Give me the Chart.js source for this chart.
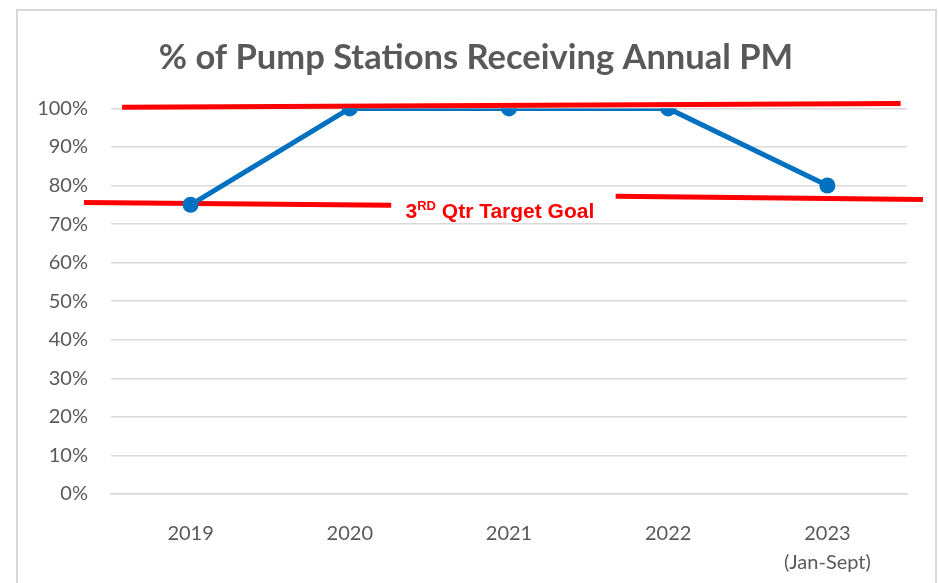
<!DOCTYPE html>
<html>
<head>
<meta charset="utf-8">
<script src="https://cdn.jsdelivr.net/npm/chart.js@4/dist/chart.umd.min.js"></script>
<style>
  html, body { margin: 0; padding: 0; background: #fff; overflow: hidden; }
  #frame { position: absolute; left: 16px; top: 9px; width: 917px; height: 620px; border: 2px solid #d9d9d9; }
  #wrap { position: absolute; left: 0; top: 0; width: 939px; height: 583px; }
</style>
</head>
<body>
<div id="frame"></div>
<div id="wrap"><canvas id="myChart" width="939" height="583"></canvas></div>
<script>
// chart data
var years = ["2019", "2020", "2021", ["2022"], ["2023", "(Jan-Sept)"]];
var pctPM = [75, 100, 100, 100, 80];
var yTicks = [0, 10, 20, 30, 40, 50, 60, 70, 80, 90, 100];

// hand drawn red marks, as (category index, percent)
var topLine = [{x: -0.43, y: 100.3}, {x: 4.46, y: 101.3}];
var goalLeft = [{x: -0.67, y: 75.6}, {x: 1.26, y: 74.9}];
var goalRight = [{x: 2.67, y: 77.2}, {x: 4.6, y: 76.4}];
var goalLabel = {x: 1.35, y: 71.6, text: "3", sup: "RD", rest: " Qtr Target Goal"};

var grey = "#595959";
var red = "#ff0000";

var goalText = {
	id: "goalText",
	afterDatasetsDraw: function(chart) {
		var ctx = chart.ctx;
		var xs = chart.scales.xa, ys = chart.scales.y;
		var px = xs.getPixelForValue(goalLabel.x);
		var py = ys.getPixelForValue(goalLabel.y);
		ctx.save();
		ctx.fillStyle = red;
		ctx.textBaseline = "alphabetic";
		ctx.textAlign = "left";
		ctx.font = "bold 21px 'Liberation Sans', Arial";
		ctx.fillText(goalLabel.text, px, py);
		px += ctx.measureText(goalLabel.text).width;
		ctx.font = "bold 13px 'Liberation Sans', Arial";
		ctx.fillText(goalLabel.sup, px, py - 8);
		px += ctx.measureText(goalLabel.sup).width;
		ctx.font = "bold 21px 'Liberation Sans', Arial";
		ctx.fillText(goalLabel.rest, px, py);
		ctx.restore();
	}
};

function redLine(pts) {
	return {
		type: "line",
		data: pts,
		xAxisID: "xa",
		borderColor: red,
		borderWidth: 5,
		pointRadius: 0,
		clip: false,
		order: 1
	};
}

var ctx = document.getElementById("myChart");

var lineChart = new Chart(ctx, {
	type: "line",
	data: {
		labels: years,
		datasets: [
			{
				label: "% PM",
				data: pctPM,
				borderColor: "#0070c0",
				backgroundColor: "#0070c0",
				borderWidth: 5,
				pointRadius: 8,
				pointHoverRadius: 8,
				pointBorderWidth: 0,
				order: 0
			},
			redLine(topLine),
			redLine(goalLeft),
			redLine(goalRight)
		]
	},
	options: {
		responsive: false,
		animation: false,
		layout: { padding: { left: 20, right: 7, top: 0, bottom: 0 } },
		plugins: {
			legend: { display: false },
			tooltip: { enabled: false },
			title: {
				display: true,
				text: "% of Pump Stations Receiving Annual PM",
				color: grey,
				font: { family: "Lato", weight: "bold", size: 34.5, lineHeight: 1.2 },
				padding: { top: 37, bottom: 30 }
			}
		},
		scales: {
			x: {
				offset: true,
				grid: { display: false },
				border: { color: "#d9d9d9", width: 1.5 },
				ticks: {
					color: grey,
					padding: 17,
					maxRotation: 0,
					font: { family: "Lato", size: 20, lineHeight: 1.45 }
				},
				afterFit: function(scale) { scale.height = 89; }
			},
			xa: {
				type: "linear",
				display: false,
				min: -0.5,
				max: 4.5
			},
			y: {
				min: 0,
				max: 100,
				afterBuildTicks: function(scale) {
					scale.ticks = yTicks.map(function(v) { return {value: v}; });
				},
				grid: { color: "#d9d9d9", lineWidth: 1.5, drawTicks: false },
				border: { display: false },
				ticks: {
					color: grey,
					padding: 23,
					font: { family: "Lato", size: 20 },
					callback: function(v) { return v + "%"; }
				},
				afterFit: function(scale) { scale.width = 91; }
			},
			yRight: {
				type: "linear",
				position: "right",
				display: true,
				grid: { display: false },
				border: { display: false },
				ticks: { display: false },
				afterFit: function(scale) { scale.width = 25; }
			}
		}
	},
	plugins: [goalText]
});
</script>
</body>
</html>
